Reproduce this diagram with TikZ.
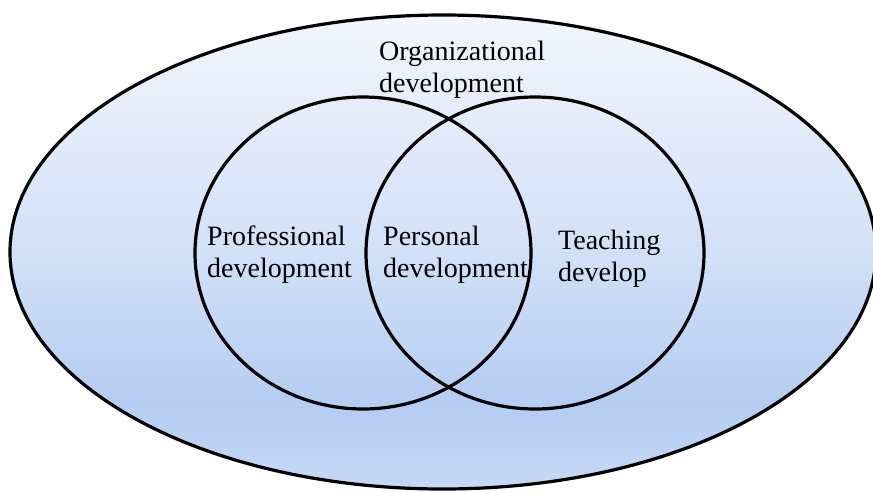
\documentclass[tikz,border=0pt]{standalone}
\usepackage{fontspec}
\setmainfont{Liberation Serif}
\definecolor{fillTop}{HTML}{F2F6FD}
\definecolor{fillMid}{HTML}{D2E0F7}
\definecolor{fillLow}{HTML}{B5CDF2}
\definecolor{fillBottom}{HTML}{C6D8F5}
% vertical shading: 25bp = bottom of the shape, 75bp = top
\pgfdeclareverticalshading{orgshade}{100bp}{%
  color(0bp)=(fillBottom); color(25bp)=(fillBottom); color(34bp)=(fillLow);
  color(50bp)=(fillMid); color(75bp)=(fillTop); color(100bp)=(fillTop)}
\begin{document}
\begin{tikzpicture}[x=1pt,y=-1pt,
  ring/.style={draw=black,line width=3.2pt},
  label/.style={anchor=north west,inner sep=0pt,align=left,
    font=\fontsize{28}{32}\selectfont}]
  \useasboundingbox (0,0) rectangle (873,491);
  \clip (0,0) rectangle (873,491);
  % outer field
  \path[ring,shading=orgshade] (443,252) ellipse [x radius=433, y radius=237];
  \node[coordinate] (org) at (443,252) {};
  % overlapping circles
  \draw[ring] (363,253) ellipse [x radius=168, y radius=156];
  \draw[ring] (535,253) ellipse [x radius=169, y radius=156];
  \node[coordinate] (prof) at (363,253) {};
  \node[coordinate] (teach) at (535,253) {};
  % labels
  \node[label] (orgText) at (379,40.5) {Organizational\\development};
  \node[label] (profText) at (207,226) {Professional\\development};
  \node[label] (persText) at (383,226) {Personal\\development};
  \node[label] (teachText) at (558,230) {Teaching\\develop};
\end{tikzpicture}
\end{document}
